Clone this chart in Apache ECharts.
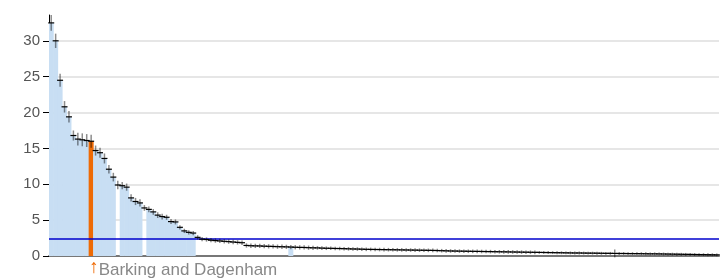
<!DOCTYPE html>
<html>
<head>
<meta charset="utf-8">
<script src="https://cdn.jsdelivr.net/npm/echarts@6/dist/echarts.min.js"></script>
<style>
  html, body { margin: 0; padding: 0; background: #fff; }
  #chart { width: 727px; height: 279px; }
</style>
</head>
<body>
<div id="chart"></div>
<script>
// values, largest first
const values = [
  32.5, 30.0, 24.5, 20.8, 19.4, 16.8, 16.3, 16.2, 16.1, 16.0,
  14.7, 14.4, 13.6, 12.1, 11.0, 9.9, 9.8, 9.6, 8.1, 7.6,
  7.4, 6.7, 6.5, 6.15, 5.7, 5.5, 5.4, 4.8, 4.75, 4.0,
  3.5, 3.3, 3.2, 2.6, 2.35, 2.3, 2.2, 2.15, 2.1, 2.05,
  2.0, 1.95, 1.9, 1.85, 1.47, 1.43, 1.41, 1.4, 1.37, 1.35,
  1.33, 1.3, 1.29, 1.27, 1.25, 1.22, 1.2, 1.19, 1.16, 1.14,
  1.13, 1.1, 1.08, 1.07, 1.05, 1.04, 1.02, 1.0, 0.98, 0.97,
  0.95, 0.93, 0.92, 0.91, 0.9, 0.89, 0.88, 0.87, 0.86, 0.85,
  0.84, 0.83, 0.82, 0.81, 0.8, 0.79, 0.78, 0.76, 0.74, 0.72,
  0.7, 0.69, 0.68, 0.67, 0.66, 0.65, 0.64, 0.63, 0.62, 0.61,
  0.6, 0.59, 0.58, 0.57, 0.56, 0.55, 0.54, 0.53, 0.52, 0.51,
  0.5, 0.49, 0.48, 0.47, 0.46, 0.45, 0.44, 0.43, 0.42, 0.42,
  0.41, 0.4, 0.4, 0.39, 0.38, 0.37, 0.37, 0.36, 0.35, 0.35,
  0.34, 0.33, 0.33, 0.32, 0.31, 0.3, 0.3, 0.29, 0.28, 0.27,
  0.26, 0.25, 0.24, 0.23, 0.22, 0.21, 0.2, 0.19, 0.18, 0.17,
  0.16
]
// half width of each error bar
const errors = [
  1.1, 1.0, 0.9, 0.8, 0.8, 0.7, 0.9, 0.9, 0.9, 0.9,
  0.7, 0.7, 0.7, 0.6, 0.6, 0.6, 0.5, 0.5, 0.5, 0.5,
  0.5, 0.4, 0.4, 0.4, 0.4, 0.4, 0.35, 0.35, 0.35, 0.3,
  0.3, 0.3, 0.3, 0.3, 0.3, 0.3, 0.3, 0.3, 0.3, 0.3,
  0.3, 0.3, 0.3, 0.3, 0.3, 0.3, 0.3, 0.3, 0.3, 0.3,
  0.3, 0.3, 0.3, 0.3, 0.3, 0.3, 0.3, 0.3, 0.3, 0.3,
  0.25, 0.25, 0.25, 0.25, 0.25, 0.25, 0.25, 0.25, 0.25, 0.25,
  0.25, 0.25, 0.25, 0.25, 0.25, 0.25, 0.25, 0.25, 0.25, 0.25,
  0.25, 0.25, 0.25, 0.25, 0.25, 0.25, 0.25, 0.25, 0.25, 0.25,
  0.25, 0.25, 0.25, 0.25, 0.25, 0.25, 0.25, 0.25, 0.25, 0.25,
  0.25, 0.25, 0.25, 0.25, 0.25, 0.25, 0.25, 0.25, 0.25, 0.25,
  0.2, 0.2, 0.2, 0.2, 0.2, 0.2, 0.2, 0.2, 0.2, 0.2,
  0.2, 0.2, 0.2, 0.2, 0.2, 0.2, 0.2, 0.55, 0.2, 0.2,
  0.2, 0.2, 0.2, 0.2, 0.2, 0.2, 0.2, 0.2, 0.2, 0.2,
  0.2, 0.2, 0.2, 0.2, 0.2, 0.2, 0.2, 0.2, 0.2, 0.2,
  0.2
]
const highlightName = 'Barking and Dagenham'
const highlightIndex = 9
const shadedCount = 33 // first bars that are filled
const unshaded = [15, 21] // gaps among the filled bars
const extraShaded = [54]
const referenceValue = 2.45
const yTicks = [0, 5, 10, 15, 20, 25, 30]

const categories = values.map((v, i) => i === highlightIndex ? highlightName : 'area ' + (i + 1))

const barData = values.map((v, i) => {
  let color = 'rgba(0,0,0,0)'
  if ((i < shadedCount && unshaded.indexOf(i) < 0) || extraShaded.indexOf(i) >= 0) color = '#c8def3'
  if (i === highlightIndex) color = '#ee6a05'
  return { value: v, itemStyle: { color: color } }
})

const errData = values.map((v, i) => [i, v, v - errors[i], v + errors[i]])

const chart = echarts.init(document.getElementById('chart'))
chart.setOption({
  animation: false,
  textStyle: { fontFamily: 'Liberation Sans, Arial, sans-serif' },
  grid: { left: 49, right: 8, top: 15, bottom: 22 },
  xAxis: {
    type: 'category',
    data: categories,
    axisLine: { lineStyle: { color: '#777', width: 2 } },
    axisTick: { show: false },
    axisLabel: {
      interval: 0,
      align: 'left',
      margin: 0,
      formatter: (name) => name === highlightName ? '{a|↑}{b|' + name + '}' : '',
      rich: {
        a: { color: '#ee6a05', fontSize: 19, fontWeight: 'bold', padding: [0, 0, 0, -2] },
        b: { color: '#888', fontSize: 17, padding: [6, 0, 0, 0] }
      }
    }
  },
  yAxis: {
    type: 'value',
    min: 0,
    max: 33.6,
    interval: 5,
    axisLine: { show: true, lineStyle: { color: '#000', width: 1 } },
    axisTick: { show: true, length: 6, customValues: yTicks, lineStyle: { color: '#000' } },
    axisLabel: { customValues: yTicks, color: '#555', fontSize: 15, margin: 9 },
    splitLine: {
      show: true,
      customValues: yTicks,
      lineStyle: { color: '#dedede', width: 1.5 }
    }
  },
  series: [
    {
      type: 'bar',
      data: barData,
      barWidth: 5,
      markLine: {
        silent: true,
        symbol: 'none',
        label: { show: false },
        lineStyle: { color: '#0000cc', width: 1.5, type: 'solid' },
        data: [{ yAxis: referenceValue }]
      }
    },
    {
      type: 'custom',
      data: errData,
      encode: { x: 0, y: 1 },
      z: 5,
      renderItem: (params, api) => {
        const x = api.value(0)
        const mid = api.coord([x, api.value(1)])
        const lo = api.coord([x, api.value(2)])
        const hi = api.coord([x, api.value(3)])
        return {
          type: 'group',
          children: [
            { type: 'line', shape: { x1: mid[0], y1: lo[1], x2: mid[0], y2: hi[1] }, style: { stroke: 'rgba(0,0,0,0.45)', lineWidth: 1.5 } },
            { type: 'line', shape: { x1: mid[0] - 3, y1: mid[1], x2: mid[0] + 3, y2: mid[1] }, style: { stroke: '#000', lineWidth: 1.2 } }
          ]
        }
      }
    }
  ]
})
</script>
</body>
</html>
